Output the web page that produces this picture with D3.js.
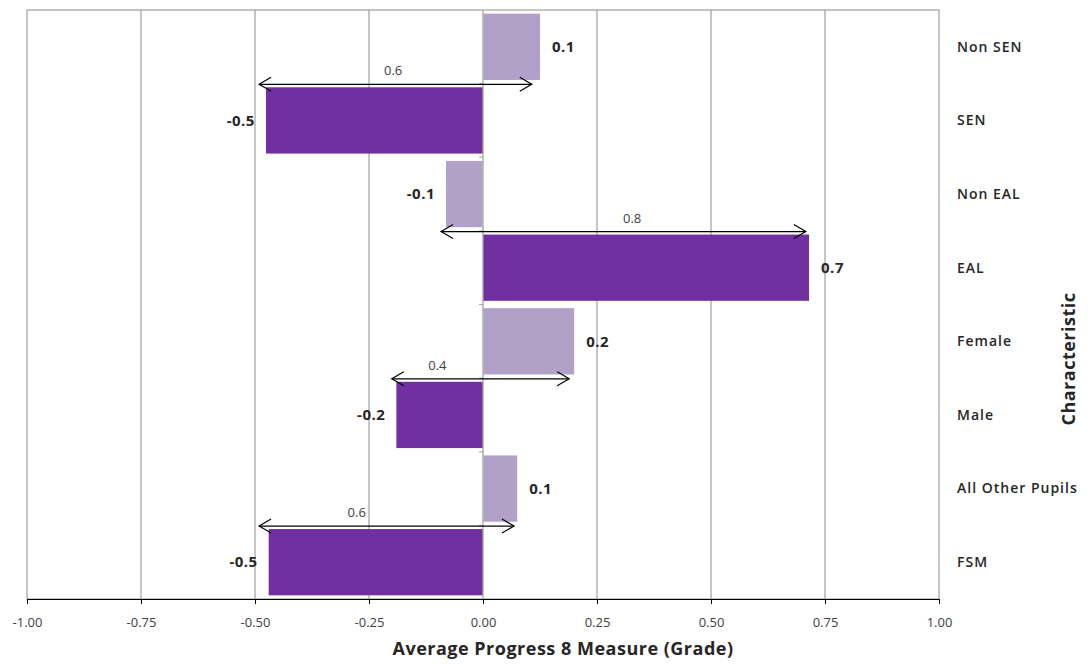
<!DOCTYPE html>
<html>
<head>
<meta charset="utf-8">
<script src="https://cdn.jsdelivr.net/npm/d3@7"></script>
<style>
  body { margin: 0; background: #fff; }
  svg { display: block; }
</style>
</head>
<body>
<svg width="1088" height="664"></svg>
<script>
// chart data
const categories = ["Non SEN", "SEN", "Non EAL", "EAL", "Female", "Male", "All Other Pupils", "FSM"];
const values = [0.125, -0.476, -0.081, 0.715, 0.2, -0.19, 0.075, -0.47];
const valueLabels = ["0.1", "-0.5", "-0.1", "0.7", "0.2", "-0.2", "0.1", "-0.5"];
const xTicks = [-1, -0.75, -0.5, -0.25, 0, 0.25, 0.5, 0.75, 1];

// gap arrows between each pair
const gapPairs = ["SEN", "EAL", "Male", "FSM"];
const gapFrom = [-0.491, -0.092, -0.2, -0.491];
const gapTo = [0.107, 0.708, 0.189, 0.068];
const gapLabels = ["0.6", "0.8", "0.4", "0.6"];
const gapLabelAt = [-0.197, 0.327, -0.1, -0.277];

const light = "#b1a0c7", dark = "#7030a0";
const font = "'Open Sans', sans-serif";

const svg = d3.select("svg");
const pLeft = 27, pRight = 939, pTop = 10, pBottom = 599;

const x = d3.scaleLinear().domain([-1, 1]).range([pLeft, pRight]);
const y = d3.scaleBand().domain(categories).range([pTop, pBottom])
    .paddingInner(0.1).paddingOuter(0.05);

// frame + grid
svg.append("rect")
    .attr("x", pLeft).attr("y", pTop)
    .attr("width", pRight - pLeft).attr("height", pBottom - pTop)
    .attr("fill", "none").attr("stroke", "#8c8c8c");

svg.append("g")
  .selectAll("line")
  .data(xTicks.slice(1, -1))
  .join("line")
    .attr("x1", d => x(d)).attr("x2", d => x(d))
    .attr("y1", pTop).attr("y2", pBottom)
    .attr("stroke", "#8c8c8c");

// bars
svg.append("g")
  .selectAll("rect")
  .data(categories)
  .join("rect")
    .attr("x", (d, i) => x(Math.min(0, values[i])))
    .attr("y", d => y(d))
    .attr("width", (d, i) => Math.abs(x(values[i]) - x(0)))
    .attr("height", y.bandwidth())
    .attr("fill", (d, i) => i % 2 ? dark : light);

// zero axis with small ticks
svg.append("line")
    .attr("x1", x(0)).attr("x2", x(0))
    .attr("y1", pTop).attr("y2", pBottom)
    .attr("stroke", "#bfbfbf");
svg.append("g")
  .selectAll("line")
  .data(d3.range(1, categories.length))
  .join("line")
    .attr("x1", x(0) - 4).attr("x2", x(0))
    .attr("y1", i => pTop + i * y.step()).attr("y2", i => pTop + i * y.step())
    .attr("stroke", "#a6a6a6");

// value labels
svg.append("g")
    .attr("font-family", font)
    .attr("font-size", 15)
    .attr("font-weight", "bold")
    .attr("letter-spacing", 0.5)
    .attr("fill", "#262626")
  .selectAll("text")
  .data(categories)
  .join("text")
    .attr("x", (d, i) => x(values[i]) + (values[i] < 0 ? -11 : 12))
    .attr("y", d => y(d) + y.bandwidth() / 2)
    .attr("dy", "0.35em")
    .attr("text-anchor", (d, i) => values[i] < 0 ? "end" : "start")
    .text((d, i) => valueLabels[i]);

// gap arrows
const arrows = svg.append("g");
gapPairs.forEach((c, i) => {
  const ay = y(c) - 3;
  const x0 = x(gapFrom[i]), x1 = x(gapTo[i]);
  const g = arrows.append("g").attr("stroke", "#000").attr("fill", "none").attr("stroke-width", 1.2);
  g.append("line").attr("x1", x0).attr("x2", x1).attr("y1", ay).attr("y2", ay);
  g.append("path").attr("d", `M${x0 + 12},${ay - 7}L${x0},${ay}L${x0 + 12},${ay + 7}`);
  g.append("path").attr("d", `M${x1 - 12},${ay - 7}L${x1},${ay}L${x1 - 12},${ay + 7}`);
  arrows.append("text")
      .attr("x", x(gapLabelAt[i]))
      .attr("y", ay - 9)
      .attr("text-anchor", "middle")
      .attr("font-family", font)
      .attr("font-size", 13)
      .attr("fill", "#404040")
      .text(gapLabels[i]);
});

// x axis
const xAxis = svg.append("g")
    .attr("transform", `translate(0,${pBottom})`)
    .call(d3.axisBottom(x).tickValues(xTicks).tickFormat(d => d3.format(".2f")(d).replace("−", "-")).tickSizeOuter(0).tickSize(5));
xAxis.select(".domain").attr("stroke", "#000");
xAxis.selectAll(".tick line").attr("stroke", "#000");
xAxis.selectAll("text")
    .attr("font-family", font)
    .attr("font-size", 13)
    .attr("fill", "#404040")
    .attr("dy", "1.5em");

svg.append("text")
    .attr("x", 563).attr("y", 655)
    .attr("text-anchor", "middle")
    .attr("font-family", font)
    .attr("font-size", 18)
    .attr("font-weight", "bold")
    .attr("letter-spacing", 0.5)
    .attr("fill", "#262626")
    .text("Average Progress 8 Measure (Grade)");

// category labels on the right
svg.append("g")
    .attr("font-family", font)
    .attr("font-size", 14)
    .attr("font-weight", 600)
    .attr("letter-spacing", 1)
    .attr("fill", "#262626")
  .selectAll("text")
  .data(categories)
  .join("text")
    .attr("x", 957)
    .attr("y", d => y(d) + y.bandwidth() / 2)
    .attr("dy", "0.35em")
    .text(d => d);

svg.append("text")
    .attr("transform", "translate(1075,359) rotate(-90)")
    .attr("text-anchor", "middle")
    .attr("font-family", font)
    .attr("font-size", 18)
    .attr("font-weight", "bold")
    .attr("letter-spacing", 0.5)
    .attr("fill", "#262626")
    .text("Characteristic");
</script>
</body>
</html>
